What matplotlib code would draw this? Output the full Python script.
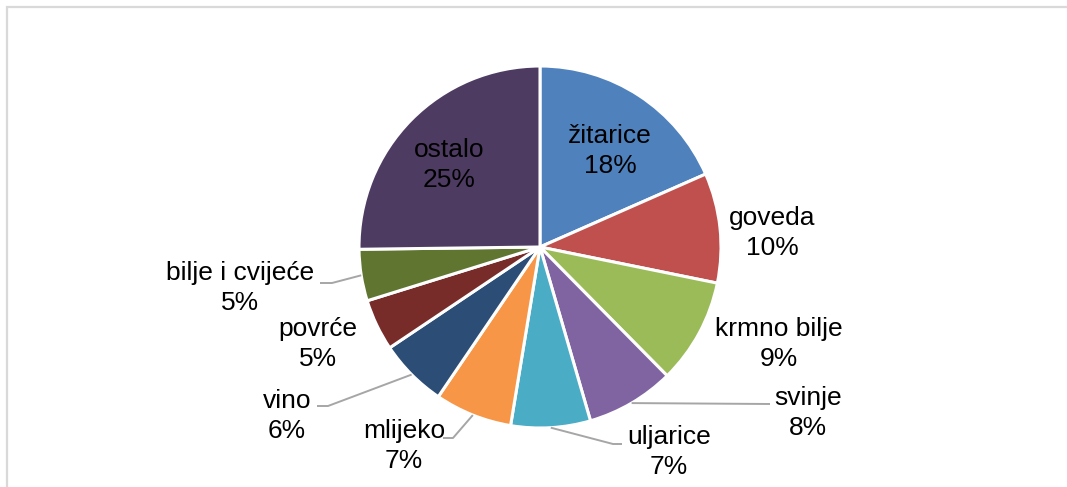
import matplotlib
matplotlib.use("Agg")
import matplotlib.pyplot as plt
from matplotlib.patches import Rectangle
import numpy as np

plt.rcParams['font.family'] = ['Liberation Sans', 'DejaVu Sans']

# ---- data ----
categories = ['žitarice', 'goveda', 'krmno bilje', 'svinje', 'uljarice',
              'mlijeko', 'vino', 'povrće', 'bilje i cvijeće', 'ostalo']
shares = [18.4, 9.8, 9.4, 7.9, 7.1, 6.9, 6.1, 4.6, 4.6, 25.2]
colors = ['#4F81BD', '#C0504D', '#9BBB59', '#8064A2', '#4BACC6',
          '#F79646', '#2C4D75', '#772C2A', '#5F7530', '#4D3B62']

# ---- layout (pixel positions of labels, converted to data units) ----
W, H = 1067, 487
CX, CY, R = 540, 247, 181


def to_data(px, py):
    return ((px - CX) / R, (CY - py) / R)


label_px = {
    'žitarice': (610, 151), 'goveda': (772, 233), 'krmno bilje': (779, 344),
    'svinje': (808, 413), 'uljarice': (669, 452), 'mlijeko': (404, 446),
    'vino': (287, 416), 'povrće': (318, 344), 'bilje i cvijeće': (240, 288),
    'ostalo': (449, 165),
}
# leader line elbow/end points (pixels)
leaders_px = {
    'svinje': [(770, 404)],
    'uljarice': [(613, 444), (622, 444)],
    'mlijeko': [(453, 438), (443, 438)],
    'vino': [(328, 406), (317, 406)],
    'bilje i cvijeće': [(332, 283), (320, 283)],
}

fig = plt.figure(figsize=(W / 100, H / 100), dpi=100)
ax = fig.add_axes([0, 0, 1, 1])
ax.axis('off')

wedges, _ = ax.pie(shares, colors=colors, startangle=90, counterclock=False,
                   radius=1, center=(0, 0),
                   wedgeprops=dict(edgecolor='white', linewidth=2.2))
ax.set_xlim(-CX / R, (W - CX) / R)
ax.set_ylim((CY - H) / R, CY / R)
ax.set_aspect('auto')

for w, name, val in zip(wedges, categories, shares):
    lx, ly = to_data(*label_px[name])
    ax.text(lx, ly, f"{name}\n{round(val):.0f}%", ha='center', va='center',
            fontsize=19, color='#000000', linespacing=1.27)
    if name in leaders_px:
        mid = np.deg2rad((w.theta1 + w.theta2) / 2)
        pts = [(np.cos(mid), np.sin(mid))] + [to_data(*p) for p in leaders_px[name]]
        xs, ys = zip(*pts)
        ax.plot(xs, ys, color='#A6A6A6', lw=1.4, solid_capstyle='butt')

fig.add_artist(Rectangle((7 / W, -0.1), 1.2, 1.1 - 7 / H,
                         transform=fig.transFigure, fill=False,
                         edgecolor='#D9D9D9', linewidth=1.6))

fig.savefig('out.png', dpi=100)
